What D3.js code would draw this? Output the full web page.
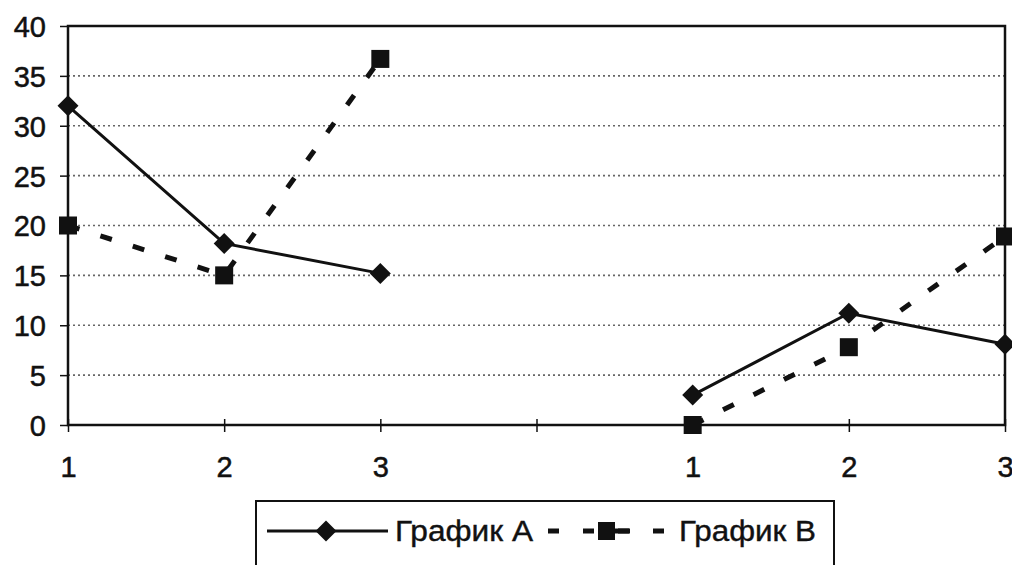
<!DOCTYPE html>
<html><head><meta charset="utf-8">
<script src="https://cdn.jsdelivr.net/npm/d3@7"></script>
<style>body{margin:0;background:#fff}svg{display:block}</style>
</head><body><svg id="c" width="1012" height="565"></svg>
<script>
const categories = ["1","2","3","","1","2","3"];
const seriesA = [32.0, 18.2, 15.2, null, 3.0, 11.2, 8.1];
const seriesB = [20.0, 15.0, 36.7, null, 0.0, 7.8, 18.9];
const seriesNames = ["График А", "График В"];
const yTicks = [0,5,10,15,20,25,30,35,40];

const svg = d3.select("#c");
const L = 68, R = 1005, T = 26, B = 425;
const x = d3.scalePoint().domain(d3.range(categories.length)).range([L, R]);
const y = d3.scaleLinear().domain([0, 40]).range([B, T]);
const font = "Liberation Sans, Arial, sans-serif";

// gridlines
svg.append("g").selectAll("line").data(yTicks.filter(v => v > 0 && v < 40)).join("line")
  .attr("x1", L).attr("x2", R).attr("y1", d => y(d)).attr("y2", d => y(d))
  .attr("stroke", "#666").attr("stroke-width", 1.6).attr("stroke-dasharray", "2,3");

// frame
svg.append("rect").attr("x", L).attr("y", T).attr("width", R - L).attr("height", B - T)
  .attr("fill", "none").attr("stroke", "#111").attr("stroke-width", 2.5);

// y axis
const yAxis = d3.axisLeft(y).tickValues(yTicks).tickSize(8).tickPadding(14);
const gy = svg.append("g").attr("transform", `translate(${L},0)`).call(yAxis);
gy.select(".domain").remove();
gy.selectAll("line").attr("stroke", "#111").attr("stroke-width", 1.5);
gy.selectAll("text").attr("font-family", font).attr("font-size", 29).attr("fill", "#111")
  .attr("stroke", "#111").attr("stroke-width", 0.5).attr("dy", "0.36em");

// x axis (ticks crossing)
const xAxis = d3.axisBottom(x).tickFormat(i => categories[i]).tickSizeInner(7).tickSizeOuter(0).tickPadding(24);
const gx = svg.append("g").attr("transform", `translate(0,${B})`).call(xAxis);
gx.select(".domain").remove();
gx.selectAll(".tick line").attr("y1", -6).attr("stroke", "#111").attr("stroke-width", 1.5);
gx.selectAll("text").attr("font-family", font).attr("font-size", 29).attr("fill", "#111")
  .attr("stroke", "#111").attr("stroke-width", 0.5);

// lines
const lineGen = d3.line().defined(d => d.v !== null).x(d => x(d.i)).y(d => y(d.v));
const dataA = seriesA.map((v, i) => ({i, v}));
const dataB = seriesB.map((v, i) => ({i, v}));

svg.append("path").datum(dataB).attr("d", lineGen).attr("fill", "none")
  .attr("stroke", "#111").attr("stroke-width", 5).attr("stroke-dasharray", "12,22");
svg.append("path").datum(dataA).attr("d", lineGen).attr("fill", "none")
  .attr("stroke", "#111").attr("stroke-width", 3);

const diamond = s => `M0,${-s}L${s},0L0,${s}L${-s},0Z`;
svg.append("g").selectAll("rect").data(dataB.filter(d => d.v !== null)).join("rect")
  .attr("x", d => x(d.i) - 9).attr("y", d => y(d.v) - 9).attr("width", 18).attr("height", 18)
  .attr("fill", "#111");
svg.append("g").selectAll("path").data(dataA.filter(d => d.v !== null)).join("path")
  .attr("transform", d => `translate(${x(d.i)},${y(d.v)})`).attr("d", diamond(10.5)).attr("fill", "#111");

// legend
const lg = svg.append("g");
lg.append("rect").attr("x", 256).attr("y", 501).attr("width", 578).attr("height", 80)
  .attr("fill", "#fff").attr("stroke", "#111").attr("stroke-width", 2);
const ly = 531;
lg.append("line").attr("x1", 267).attr("x2", 388).attr("y1", ly).attr("y2", ly)
  .attr("stroke", "#111").attr("stroke-width", 3);
lg.append("path").attr("transform", `translate(326,${ly})`).attr("d", diamond(10.5)).attr("fill", "#111");
lg.append("text").attr("x", 395).attr("y", ly + 10).attr("font-family", font).attr("font-size", 29)
  .attr("fill", "#111").attr("stroke", "#111").attr("stroke-width", 0.4)
  .attr("textLength", 138).attr("lengthAdjust", "spacingAndGlyphs").text(seriesNames[0]);
lg.append("line").attr("x1", 548).attr("x2", 666).attr("y1", ly).attr("y2", ly)
  .attr("stroke", "#111").attr("stroke-width", 5).attr("stroke-dasharray", "11,24,11,24,11,24");
lg.append("rect").attr("x", 598).attr("y", ly - 9).attr("width", 17).attr("height", 18).attr("fill", "#111");
lg.append("line").attr("x1", 612).attr("x2", 630).attr("y1", ly).attr("y2", ly)
  .attr("stroke", "#111").attr("stroke-width", 5);
lg.append("text").attr("x", 679).attr("y", ly + 10).attr("font-family", font).attr("font-size", 29)
  .attr("fill", "#111").attr("stroke", "#111").attr("stroke-width", 0.4)
  .attr("textLength", 137).attr("lengthAdjust", "spacingAndGlyphs").text(seriesNames[1]);
</script></body></html>
